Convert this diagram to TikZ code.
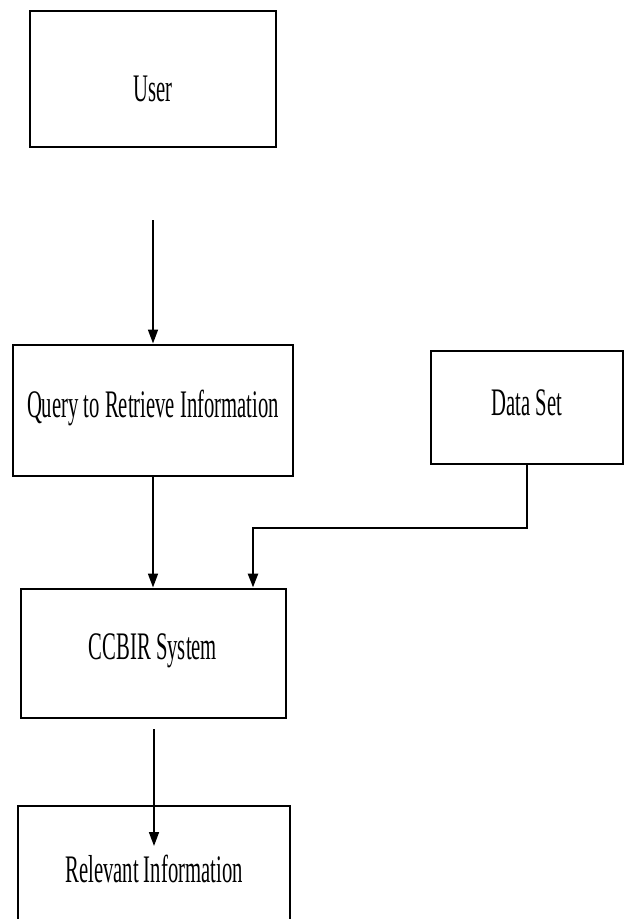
\documentclass[tikz,border=0pt]{standalone}
\usepackage{fontspec}
\setmainfont{Liberation Serif}
\usetikzlibrary{arrows.meta}
\newcommand{\narrowtext}[1]{\scalebox{0.53}[1]{#1}}

\begin{document}
\begin{tikzpicture}[x=1pt,y=-1pt,
  block/.style={draw, line width=2pt, inner sep=0pt},
  caption/.style={font=\fontsize{39}{44}\selectfont, inner sep=0pt},
  flow/.style={line width=1.6pt, -{Triangle[length=14pt,width=10pt]}}]
\useasboundingbox (0,0) rectangle (624,919);
\clip (0,0) rectangle (624,919);

\node[block, line width=2.6pt, minimum width=246pt, minimum height=136pt,
  label={[caption, yshift=-10pt]center:\narrowtext{User}}] (user) at (153,79) {};
\node[block, minimum width=280pt, minimum height=131pt,
  label={[caption, yshift=2pt]center:\narrowtext{Query to Retrieve Information}}] (query) at (153,410) {};
\node[block, minimum width=192pt, minimum height=113pt,
  label={[caption, yshift=4pt]center:\narrowtext{Data Set}}] (data) at (527,407) {};
\node[block, minimum width=265pt, minimum height=129pt,
  label={[caption, yshift=2pt]center:\narrowtext{CCBIR System}}] (ccbir) at (153,653) {};
\node[block, minimum width=272pt, minimum height=140pt,
  label={[caption, yshift=7pt]center:\narrowtext{Relevant Information}}] (relevant) at (154,876) {};

\path
  (153,220) coordinate (userout)
  (253,528) coordinate (bend)
  (154,729) coordinate (ccbirout)
  (154,846) coordinate (relevantin);

% connectors
\draw[flow] (userout) -- (userout |- query.north);
\draw[flow] (query.south) -- (ccbir.north);
\draw[flow, line width=2.6pt] (data.south) |- (bend) -- (bend |- ccbir.north);
\draw[flow] (ccbirout) -- (relevantin);

\end{tikzpicture}
\end{document}
